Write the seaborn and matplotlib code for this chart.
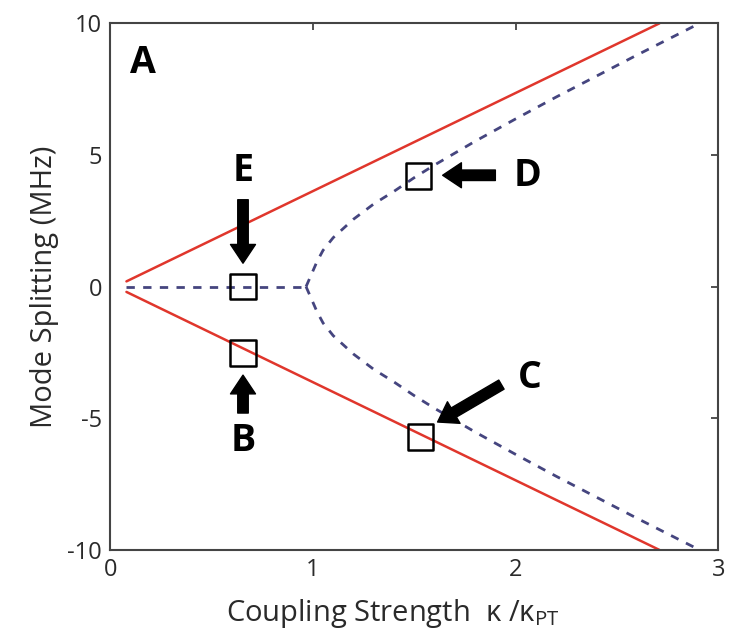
import numpy as np
import pandas as pd
import matplotlib
matplotlib.use("Agg")
import matplotlib.pyplot as plt
import seaborn as sns

# ---- data ----
red_x = [0.08, 2.71]
red_upper = [0.2, 10.0]
red_lower = [-0.2, -10.0]

flat_x = [0.08, 0.966]
flat_y = [0.0, 0.0]

branch_x = [0.966, 0.99, 1.02, 1.05, 1.1, 1.16, 1.2, 1.3, 1.4, 1.5, 1.6, 1.8,
            2.0, 2.2, 2.4, 2.6, 2.8, 2.9]
branch_y = [0.0, 0.42, 0.95, 1.38, 1.86, 2.28, 2.56, 3.14, 3.62, 4.14, 4.62,
            5.52, 6.37, 7.20, 8.00, 8.80, 9.58, 9.97]

box_labels = ["E", "B", "D", "C"]
box_x = [0.655, 0.655, 1.52, 1.53]
box_y = [0.0, -2.52, 4.2, -5.71]

x_ticks = [0, 1, 2, 3]
y_ticks = [-10, -5, 0, 5, 10]

sns.set_theme(style="white")
plt.rcParams['font.family'] = ['Open Sans', 'DejaVu Sans']
plt.rcParams['axes.unicode_minus'] = False
plt.rcParams['mathtext.fontset'] = 'custom'
plt.rcParams['mathtext.rm'] = 'Open Sans'
plt.rcParams['mathtext.it'] = 'Open Sans'

fig = plt.figure(figsize=(7.3, 6.3), dpi=100)
ax = fig.add_axes([0.151, 0.127, 0.833, 0.836])

red_col = "#e0362c"
blue_col = "#45457f"

df_up = pd.DataFrame({"x": red_x, "y": red_upper})
df_lo = pd.DataFrame({"x": red_x, "y": red_lower})
sns.lineplot(data=df_up, x="x", y="y", ax=ax, color=red_col, lw=1.8, sort=False)
sns.lineplot(data=df_lo, x="x", y="y", ax=ax, color=red_col, lw=1.8, sort=False)

bx = np.array(branch_x)
by = np.array(branch_y)
df_flat = pd.DataFrame({"x": flat_x, "y": flat_y})
df_bu = pd.DataFrame({"x": bx, "y": by})
df_bl = pd.DataFrame({"x": bx, "y": -by})
for d in (df_flat, df_bu, df_bl):
    sns.lineplot(data=d, x="x", y="y", ax=ax, color=blue_col, lw=2.0,
                 sort=False, dashes=False, linestyle=(0, (3.0, 3.0)))

df_box = pd.DataFrame({"x": box_x, "y": box_y})
sns.scatterplot(data=df_box, x="x", y="y", ax=ax, marker="s", s=330,
                facecolors="none", edgecolor="black", linewidth=1.8, zorder=5)

aprops = dict(arrowstyle="simple,head_length=0.75,head_width=1.0,tail_width=0.42",
              color="black", mutation_scale=18, shrinkA=0, shrinkB=0)
# E arrow (down)
ax.annotate("", xy=(0.655, 0.89), xytext=(0.655, 3.3), arrowprops=aprops)
# B arrow (up)
ax.annotate("", xy=(0.655, -3.36), xytext=(0.655, -4.8), arrowprops=aprops)
# D arrow (left)
ax.annotate("", xy=(1.64, 4.23), xytext=(1.90, 4.23), arrowprops=aprops)
# C arrow (diagonal)
ax.annotate("", xy=(1.615, -5.14), xytext=(1.93, -3.72), arrowprops=aprops)

lab_kw = dict(fontsize=27, fontweight="bold", color="black", ha="center", va="center")
ax.text(0.16, 8.5, "A", **lab_kw)
ax.text(0.655, 4.4, "E", **lab_kw)
ax.text(0.655, -5.85, "B", **lab_kw)
ax.text(2.06, 4.2, "D", **lab_kw)
ax.text(2.07, -3.45, "C", **lab_kw)

ax.set_xlim(0, 3)
ax.set_ylim(-10, 10)
ax.set_xticks(x_ticks)
ax.set_yticks(y_ticks)
ax.set_xticklabels([str(t) for t in x_ticks])
ax.set_yticklabels([str(t) for t in y_ticks])
ax.tick_params(direction="in", length=5, width=1.2, colors="#333333",
               labelsize=17, labelcolor="#2a2a2a", top=True, right=True, pad=6)
for s in ax.spines.values():
    s.set_visible(True)
    s.set_color("#444444")
    s.set_linewidth(1.5)

ax.set_xlabel("Coupling Strength  κ /κ$_{\\rm PT}$", fontsize=21, color="#2a2a2a")
ax.xaxis.set_label_coords(0.465, -0.09)
ax.set_ylabel("Mode Splitting (MHz)", fontsize=21, color="#2a2a2a", labelpad=6)

fig.savefig("out.png", dpi=100, facecolor="white")
